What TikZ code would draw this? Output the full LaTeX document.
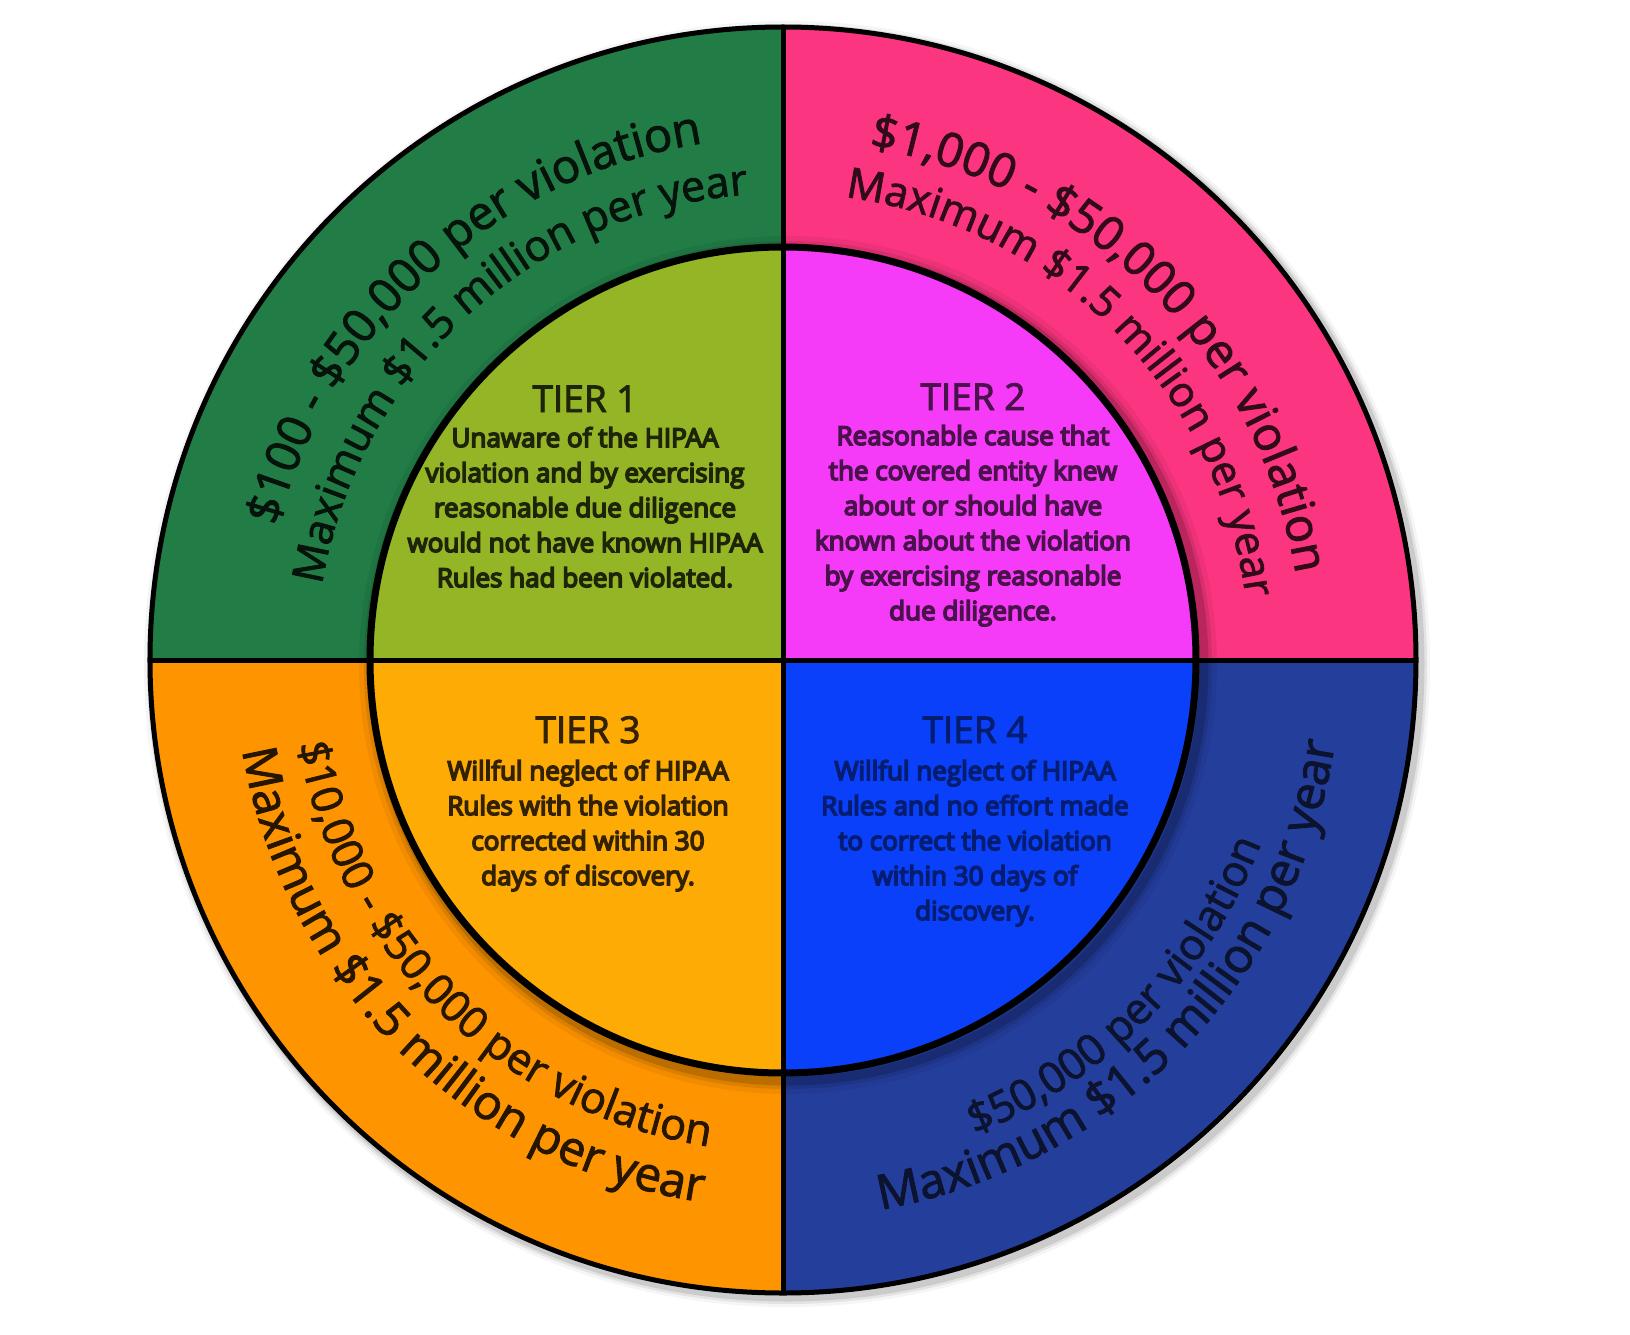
\documentclass[tikz,border=0pt]{standalone}
\usepackage{fontspec}
\newfontfamily\ringfont{Open Sans}[FakeBold=2]
\newfontfamily\titlefont{Open Sans}[FakeBold=2.5]
\newfontfamily\tierfont{Open Sans}[FakeBold=6]
\usetikzlibrary{decorations.text}
\definecolor{ogreen}{RGB}{33,124,70}
\definecolor{igreen}{RGB}{148,181,38}
\definecolor{opink}{RGB}{251,53,128}
\definecolor{imag}{RGB}{245,59,247}
\definecolor{oorange}{RGB}{254,148,0}
\definecolor{iorange}{RGB}{254,171,5}
\definecolor{oblue}{RGB}{36,62,156}
\definecolor{iblue}{RGB}{10,64,250}
\colorlet{gtxt}{ogreen!15!black}
\colorlet{ptxt}{opink!20!black}
\colorlet{otxt}{oorange!15!black}
\colorlet{btxt}{oblue!30!black}
\colorlet{t1txt}{igreen!20!black}
\colorlet{t2txt}{imag!30!black}
\colorlet{t3txt}{iorange!20!black}
\colorlet{t4txt}{iblue!45!black}
\tikzset{
  tiertitle/.style={anchor=base, inner sep=0pt, font=\titlefont\fontsize{37}{44}\selectfont},
  tierbody/.style={anchor=base, inner sep=0pt, font=\tierfont\fontsize{26}{35}\selectfont},
  ringline/.style={line width=5pt, black},
}
\newcommand{\rf}[2]{\ringfont\fontsize{#1}{50}\selectfont\color{#2}}
\begin{document}
\begin{tikzpicture}[x=1pt,y=1pt]
\useasboundingbox (-783,-674) rectangle (847,660);
\fill[white] (-783,-674) rectangle (847,660);
% soft shadow of the disc
\foreach \w/\o in {18/0.04,12/0.07,7/0.10}
  \draw[line width=\w pt, black, opacity=\o] (4,-4) circle[radius=634];
% outer ring quadrants
\fill[ogreen] (0,0) -- (180:633) arc[start angle=180,end angle=90,radius=633] -- cycle;
\fill[opink] (0,0) -- (90:633) arc[start angle=90,end angle=0,radius=633] -- cycle;
\fill[oblue] (0,0) -- (0:633) arc[start angle=0,end angle=-90,radius=633] -- cycle;
\fill[oorange] (0,0) -- (270:633) arc[start angle=270,end angle=180,radius=633] -- cycle;
% shadow of inner disc
\foreach \w/\o in {26/0.05,16/0.09,9/0.14}
  \draw[line width=\w pt, black, opacity=\o] (5,-5) circle[radius=416];
% inner quadrants
\fill[igreen] (0,0) -- (180:413) arc[start angle=180,end angle=90,radius=413] -- cycle;
\fill[imag] (0,0) -- (90:413) arc[start angle=90,end angle=0,radius=413] -- cycle;
\fill[iblue] (0,0) -- (0:413) arc[start angle=0,end angle=-90,radius=413] -- cycle;
\fill[iorange] (0,0) -- (270:413) arc[start angle=270,end angle=180,radius=413] -- cycle;
% outlines
\draw[ringline] (0,0) circle[radius=633];
\draw[line width=7pt] (0,0) circle[radius=413];
\draw[ringline] (0,633) -- (0,-633);
\draw[ringline] (-633,0) -- (633,0);
% ring texts: top (tops outward, clockwise)
\path[decorate,decoration={text along path,text align=center,
  text={|\rf{47}{gtxt}|{\$}100 - {\$}50,000 per violation}}]
  (192:523) arc[start angle=192,end angle=72,radius=523];
\path[decorate,decoration={text along path,text align=center,
  text={|\rf{43}{gtxt}|Maximum {\$}1.5 million per year}}]
  (192.5:467) arc[start angle=192.5,end angle=72.5,radius=467];
\path[decorate,decoration={text along path,text align=center,
  text={|\rf{47}{ptxt}|{\$}1,000 - {\$}50,000 per violation}}]
  (105:520) arc[start angle=105,end angle=-15,radius=520];
\path[decorate,decoration={text along path,text align=center,
  text={|\rf{42}{ptxt}|Maximum {\$}1.5 million per year}}]
  (105:467) arc[start angle=105,end angle=-15,radius=467];
% ring texts: bottom (tops inward, counter-clockwise)
\path[decorate,decoration={text along path,text align=center,
  text={|\rf{43}{otxt}|{\$}10,000 - {\$}50,000 per violation}}]
  (165.6:492) arc[start angle=165.6,end angle=285.6,radius=492];
\path[decorate,decoration={text along path,text align=center,
  text={|\rf{47.5}{otxt}|Maximum {\$}1.5 million per year}}]
  (165.5:548) arc[start angle=165.5,end angle=285.5,radius=548];
\path[decorate,decoration={text along path,text align=center,
  text={|\rf{43}{btxt}|{\$}50,000 per violation}}]
  (255.5:512) arc[start angle=255.5,end angle=375.5,radius=512];
\path[decorate,decoration={text along path,text align=center,
  text={|\rf{48}{btxt}|Maximum {\$}1.5 million per year}}]
  (255.8:558) arc[start angle=255.8,end angle=375.8,radius=558];
% tier texts
\node[tiertitle, text=t1txt] (tier1) at (-198,248) {TIER 1};
\foreach \t [count=\i from 0] in {Unaware of the HIPAA, violation and by exercising, reasonable due diligence, would not have known HIPAA, Rules had been violated.}
  \node[tierbody, text=t1txt] (ta\i) at (-198,{213-35*\i}) {\t};
\node[tiertitle, text=t2txt] (tier2) at (190,250) {TIER 2};
\foreach \t [count=\i from 0] in {Reasonable cause that, the covered entity knew, about or should have, known about the violation, by exercising reasonable, due diligence.}
  \node[tierbody, text=t2txt] (tb\i) at (190,{215-35*\i}) {\t};
\node[tiertitle, text=t3txt] (tier3) at (-195,-83) {TIER 3};
\foreach \t [count=\i from 0] in {Willful neglect of HIPAA, Rules with the violation, corrected within 30, days of discovery.}
  \node[tierbody, text=t3txt] (tc\i) at (-195,{-120-35*\i}) {\t};
\node[tiertitle, text=t4txt] (tier4) at (192,-83) {TIER 4};
\foreach \t [count=\i from 0] in {Willful neglect of HIPAA, Rules and no effort made, to correct the violation, within 30 days of, discovery.}
  \node[tierbody, text=t4txt] (td\i) at (192,{-120-35*\i}) {\t};
\end{tikzpicture}
\end{document}
